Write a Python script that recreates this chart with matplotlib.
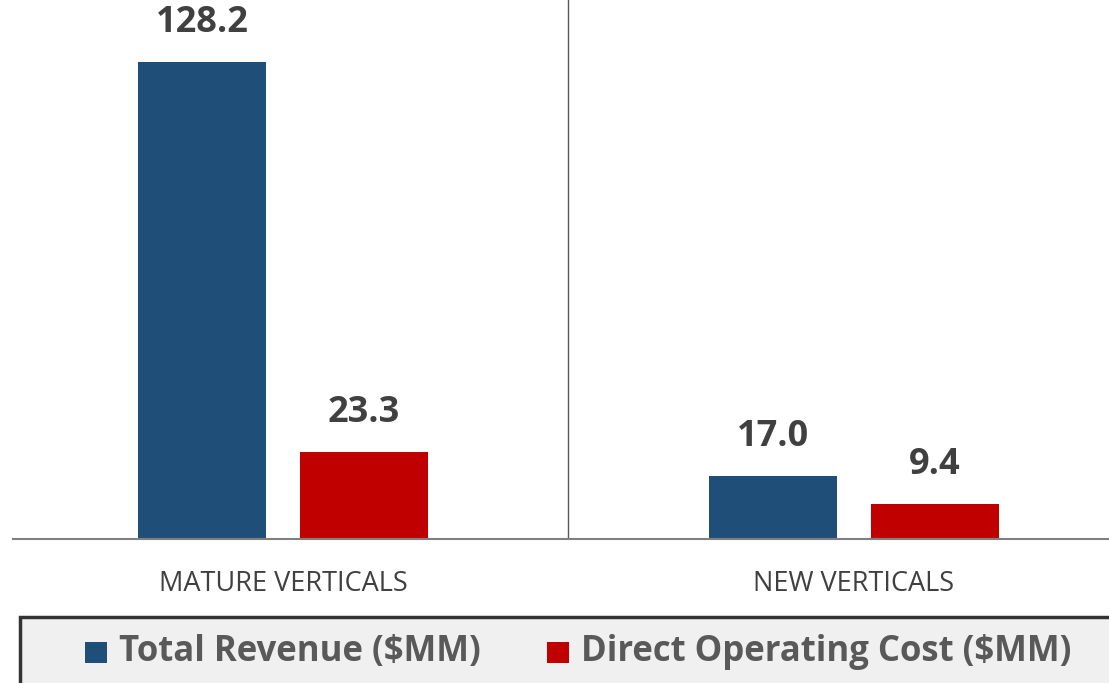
import numpy as np
import matplotlib.pyplot as plt
from matplotlib.patches import Rectangle

categories = ["MATURE VERTICALS", "NEW VERTICALS"]
revenue = [128.2, 17.0]
direct_cost = [23.3, 9.4]
series_names = ["Total Revenue ($MM)", "Direct Operating Cost ($MM)"]

blue = "#1f4e79"
red = "#c00000"

plt.rcParams['font.family'] = ['Open Sans', 'DejaVu Sans']

W, H = 1109, 683
fig = plt.figure(figsize=(W / 100, H / 100), dpi=100)
ax = fig.add_axes([13 / W, (H - 539) / H, (W - 13) / W, 539 / H])

x = np.arange(len(categories))
bw = 0.224
off = 0.142
b1 = ax.bar(x - off, revenue, bw, color=blue)
b2 = ax.bar(x + off, direct_cost, bw, color=red)

for bars, vals in ((b1, revenue), (b2, direct_cost)):
    for r, v in zip(bars, vals):
        ax.annotate(f"{v:.1f}", (r.get_x() + r.get_width() / 2, v),
                    xytext=(0, 28), textcoords="offset points",
                    ha="center", va="center", fontsize=26, fontweight="bold",
                    color="#404040")

ax.set_xlim(-0.473, 1.447)
ax.set_ylim(0, 144.9)
ax.axvline(0.5, color="#595959", lw=1)
for s in ("top", "right", "left"):
    ax.spines[s].set_visible(False)
ax.spines["bottom"].set_color("#808080")
ax.spines["bottom"].set_linewidth(1.5)
ax.set_yticks([])
ax.set_xticks(x)
ax.set_xticklabels(categories, fontsize=19.5, color="#404040")
ax.tick_params(axis="x", length=0, pad=22)

# legend box at the bottom
fig.patches.append(Rectangle((20 / W, -0.05), 1.1, (H - 617) / H + 0.05,
                             transform=fig.transFigure, facecolor="#f0f0f0",
                             edgecolor="#333333", lw=2.5, zorder=0))
ly = (H - 652) / H
for px, c, name in ((85, blue, series_names[0]), (547, red, series_names[1])):
    fig.patches.append(Rectangle((px / W, (H - 663) / H), 22 / W, 21 / H,
                                 transform=fig.transFigure, facecolor=c,
                                 edgecolor="none", zorder=1))
    fig.text((px + 34) / W, ly, name, fontsize=25, fontweight="bold",
             color="#595959", va="center", ha="left")

fig.savefig("out.png", dpi=100)
